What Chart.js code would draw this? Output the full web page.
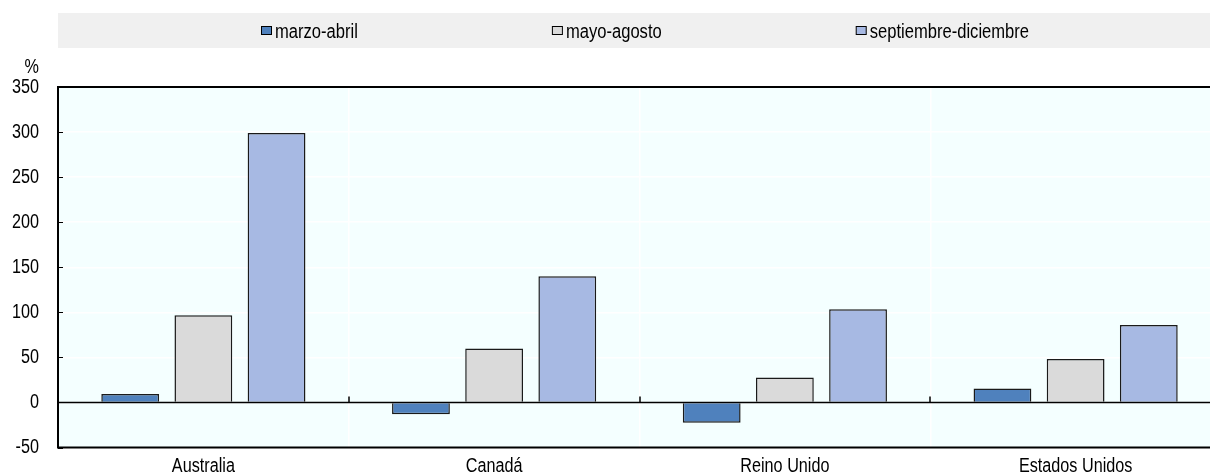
<!DOCTYPE html>
<html>
<head>
<meta charset="utf-8">
<script src="https://cdn.jsdelivr.net/npm/chart.js@4/dist/chart.umd.min.js"></script>
<style>
html, body { margin: 0; padding: 0; overflow: hidden; background: #fff; }
#wrap { width: 1222px; height: 480px; position: relative; }
</style>
</head>
<body>
<div id="wrap"><canvas id="chart"></canvas></div>
<script>
// data
const countries = ['Australia', 'Canadá', 'Reino Unido', 'Estados Unidos'];
const seriesNames = ['marzo-abril', 'mayo-agosto', 'septiembre-diciembre'];
const marzoAbril = [9.5, -13, -22.6, 15.5];
const mayoAgosto = [96.7, 59.8, 27.7, 48.3];
const septDic = [299, 140, 103.4, 86];
const yTicks = [-50, 0, 50, 100, 150, 200, 250, 300, 350];
const yUnit = '%';

// the original uses a narrow Arial; no narrow face is installed, so squeeze Liberation Sans
const FAMILY = '"Liberation Sans", Arial, sans-serif';
const TICK_FONT = '20px ' + FAMILY, TICK_SQUEEZE = 0.81;
const LEG_FONT = '19.5px ' + FAMILY, LEG_SQUEEZE = 0.85;

function narrowText(ctx, text, x, y, align, baseline, font, squeeze) {
    ctx.save();
    ctx.font = font;
    ctx.fillStyle = '#000';
    ctx.textAlign = align;
    ctx.textBaseline = baseline;
    ctx.translate(x, y);
    ctx.scale(squeeze, 1);
    ctx.fillText(text, 0, 0);
    ctx.restore();
}

const decor = {
    id: 'decor',
    beforeDraw(chart) {
        const {ctx, chartArea: a, width} = chart;
        ctx.save();
        // legend strip
        ctx.fillStyle = '#f0f0f0';
        ctx.fillRect(a.left, 13, width - a.left, 35);
        // plot background
        ctx.fillStyle = '#f4ffff';
        ctx.fillRect(a.left, a.top, a.right - a.left, a.bottom - a.top);

        // legend items
        ctx.font = LEG_FONT;
        const items = chart.data.datasets.map(ds => ({
            label: ds.label,
            color: ds.backgroundColor,
            w: ctx.measureText(ds.label).width * LEG_SQUEEZE
        }));
        const box = 11, gap = 3, spacing = 194;
        const total = items.reduce((s, it) => s + box + gap + it.w, 0) + spacing * (items.length - 1);
        let x = Math.round(645 - total / 2);
        items.forEach(it => {
            ctx.fillStyle = it.color;
            ctx.fillRect(x + 0.5, 26.5, box - 1, 8);
            ctx.strokeStyle = '#000';
            ctx.lineWidth = 1;
            ctx.strokeRect(x + 0.5, 26.5, box - 1, 8);
            narrowText(ctx, it.label, x + box + gap, 38, 'left', 'alphabetic', LEG_FONT, LEG_SQUEEZE);
            x += box + gap + it.w + spacing;
        });

        // unit label above the y axis
        narrowText(ctx, yUnit, 39, 67, 'right', 'middle', TICK_FONT, TICK_SQUEEZE);
        ctx.restore();
    },
    afterDatasetsDraw(chart) {
        const {ctx, chartArea: a} = chart;
        const xs = chart.scales.x, ys = chart.scales.y;
        ctx.save();
        ctx.strokeStyle = '#000';
        // small inner ticks on the left axis
        ctx.lineWidth = 1;
        ys.ticks.forEach(t => {
            const y = Math.round(ys.getPixelForValue(t.value)) + 0.5;
            ctx.beginPath();
            ctx.moveTo(a.left, y);
            ctx.lineTo(a.left + 5, y);
            ctx.stroke();
        });
        // zero line over the bar bases
        const y0 = ys.getPixelForValue(0);
        ctx.lineWidth = 1.6;
        ctx.beginPath();
        ctx.moveTo(a.left, y0);
        ctx.lineTo(a.right, y0);
        ctx.stroke();
        // category separators on the zero line
        ctx.lineWidth = 1.5;
        for (let i = 1; i < countries.length; i++) {
            const x = Math.round((xs.getPixelForValue(i - 1) + xs.getPixelForValue(i)) / 2);
            ctx.beginPath();
            ctx.moveTo(x, y0 - 6);
            ctx.lineTo(x, y0);
            ctx.stroke();
        }
        // frame
        ctx.lineWidth = 2;
        ctx.strokeRect(a.left, a.top, a.right - a.left, a.bottom - a.top);
        ctx.restore();
    },
    afterDraw(chart) {
        const {ctx} = chart;
        const xs = chart.scales.x, ys = chart.scales.y;
        // y tick labels
        ys.ticks.forEach(t => {
            narrowText(ctx, String(t.value), 39, ys.getPixelForValue(t.value), 'right', 'middle', TICK_FONT, TICK_SQUEEZE);
        });
        // category labels
        countries.forEach((c, i) => {
            narrowText(ctx, c, xs.getPixelForValue(i), 472, 'center', 'alphabetic', TICK_FONT, TICK_SQUEEZE);
        });
    }
};

const ctx = document.getElementById('chart').getContext('2d');
const myChart = new Chart(ctx, {
    type: 'bar',
    plugins: [decor],
    data: {
        labels: countries,
        datasets: [
            {
                label: seriesNames[0],
                data: marzoAbril,
                backgroundColor: '#4f81bd',
                borderColor: '#1a1a1a',
                borderWidth: 1.5,
                borderSkipped: 'start'
            },
            {
                label: seriesNames[1],
                data: mayoAgosto,
                backgroundColor: '#dadada',
                borderColor: '#1a1a1a',
                borderWidth: 1.5,
                borderSkipped: 'start'
            },
            {
                label: seriesNames[2],
                data: septDic,
                backgroundColor: '#a7b9e3',
                borderColor: '#1a1a1a',
                borderWidth: 1.5,
                borderSkipped: 'start'
            }
        ]
    },
    options: {
        responsive: true,
        maintainAspectRatio: false,
        animation: false,
        categoryPercentage: 0.755,
        barPercentage: 0.79,
        layout: {
            padding: {top: 87, left: 0, right: 1, bottom: 0}
        },
        scales: {
            x: {
                grid: {
                    color: '#ffffff',
                    lineWidth: 1.5,
                    drawTicks: false
                },
                border: {display: false},
                ticks: {display: false},
                afterFit(scale) { scale.height = 32.5; }
            },
            y: {
                min: -50,
                max: 350,
                afterBuildTicks(scale) {
                    scale.ticks = yTicks.map(v => ({value: v}));
                },
                grid: {
                    color: '#ffffff',
                    lineWidth: 1.5,
                    drawTicks: false
                },
                border: {display: false},
                ticks: {display: false},
                afterFit(scale) { scale.width = 58; }
            }
        },
        plugins: {
            legend: {display: false},
            tooltip: {enabled: false}
        }
    }
});
</script>
</body>
</html>
